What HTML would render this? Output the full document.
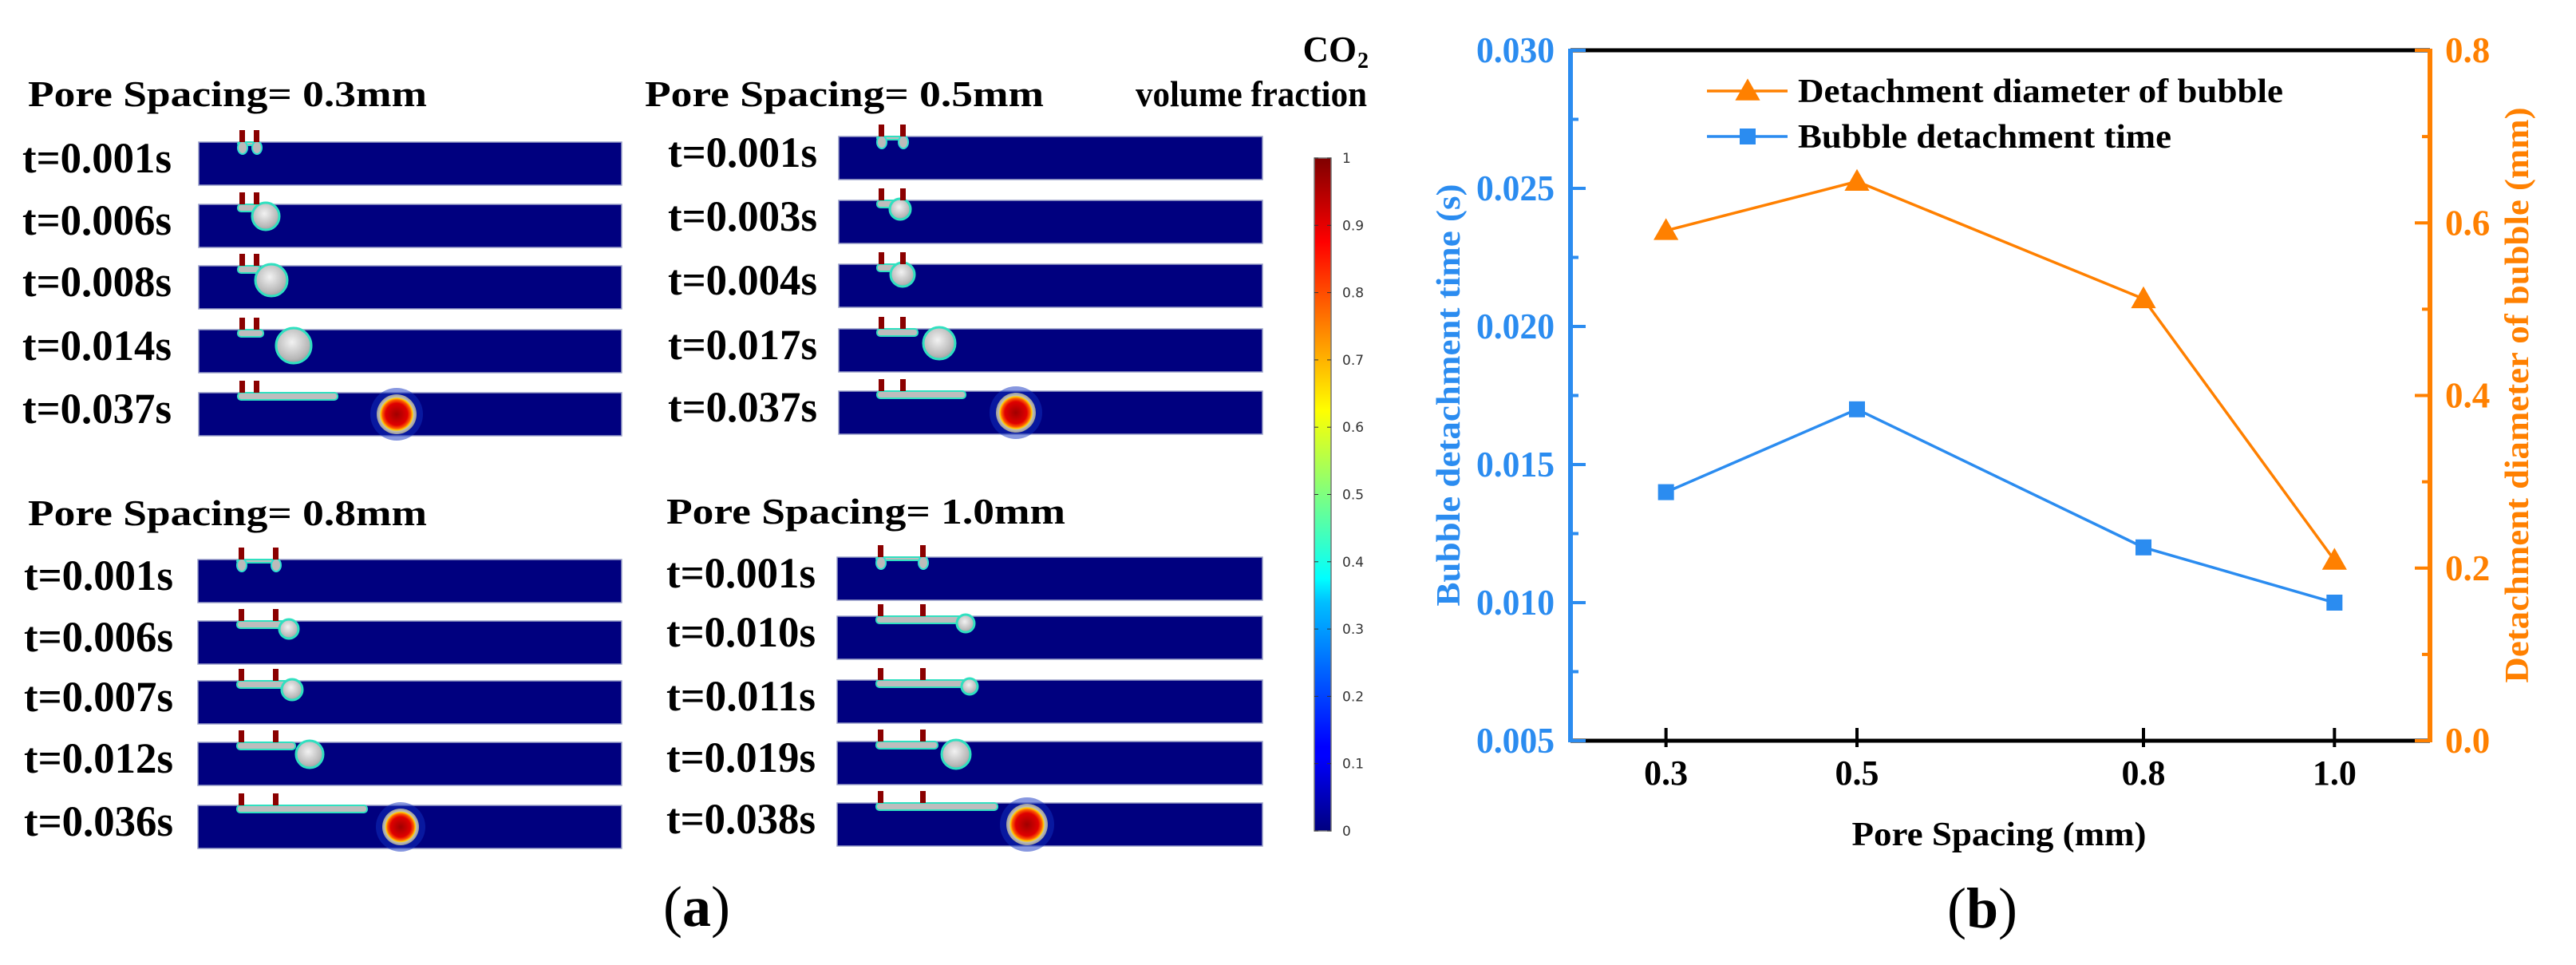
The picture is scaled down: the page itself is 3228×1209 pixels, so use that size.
<!DOCTYPE html>
<html><head><meta charset="utf-8">
<style>
html,body{margin:0;padding:0;background:#fff;}
svg{display:block;}
.ser{font-family:"Liberation Serif",serif;font-weight:bold;}
.lab{font-family:"Liberation Serif",serif;font-weight:bold;font-size:54px;fill:#000;}
.ttl{font-family:"Liberation Serif",serif;font-weight:bold;font-size:46px;fill:#000;}
.cb{font-family:"DejaVu Sans","Liberation Sans",sans-serif;font-size:17px;fill:#333;}
</style></head>
<body>
<svg id="root" width="3228" height="1209" viewBox="0 0 3228 1209" xmlns="http://www.w3.org/2000/svg">
<defs>
<linearGradient id="jet" x1="0" y1="1" x2="0" y2="0">
<stop offset="0" stop-color="#00007f"/><stop offset="0.11" stop-color="#0000ff"/><stop offset="0.125" stop-color="#0000ff"/>
<stop offset="0.34" stop-color="#00bfff"/><stop offset="0.375" stop-color="#00ffff"/><stop offset="0.5" stop-color="#7fff7f"/>
<stop offset="0.625" stop-color="#ffff00"/><stop offset="0.75" stop-color="#ff8000"/><stop offset="0.875" stop-color="#ff0000"/><stop offset="1" stop-color="#7f0000"/>
</linearGradient>
<radialGradient id="bub" cx="0.45" cy="0.4" r="0.6">
<stop offset="0" stop-color="#f2f2f2"/><stop offset="0.8" stop-color="#b8b8b8"/><stop offset="1" stop-color="#a0a0a0"/>
</radialGradient>
<radialGradient id="redb" cx="0.5" cy="0.5" r="0.5">
<stop offset="0" stop-color="#a00000"/><stop offset="0.55" stop-color="#e00000"/><stop offset="0.72" stop-color="#ff6000"/><stop offset="0.8" stop-color="#ffd000"/><stop offset="0.86" stop-color="#bbbbbb"/><stop offset="1" stop-color="#9a9a9a"/>
</radialGradient>
</defs>
<g id="panelA"></g>
<g id="chartB"></g>
</svg>
<script>
// ---------- Panel (a): simulation snapshots ----------
const groupTitles = ["Pore Spacing= 0.3mm","Pore Spacing= 0.5mm","Pore Spacing= 0.8mm","Pore Spacing= 1.0mm"];
const groupTimes = [
  ["t=0.001s","t=0.006s","t=0.008s","t=0.014s","t=0.037s"],
  ["t=0.001s","t=0.003s","t=0.004s","t=0.017s","t=0.037s"],
  ["t=0.001s","t=0.006s","t=0.007s","t=0.012s","t=0.036s"],
  ["t=0.001s","t=0.010s","t=0.011s","t=0.019s","t=0.038s"]
];
const NS="http://www.w3.org/2000/svg";
function mk(tag, attrs, parent){const e=document.createElementNS(NS,tag);for(const k in attrs)e.setAttribute(k,attrs[k]);parent.appendChild(e);return e;}
const pa=document.getElementById('panelA');
const layout=[
 {tx:35, ty:133, lx:28, px:249, pr:779, tops:[178,256,333,413,492], n:[300,318]},
 {tx:808,ty:133, lx:837, px:1051,pr:1582,tops:[171,251,331,412,490], n:[1101,1128]},
 {tx:35, ty:658, lx:30, px:248, pr:779, tops:[701,778,853,930,1009], n:[299,342]},
 {tx:835,ty:656, lx:835, px:1049,pr:1582,tops:[698,772,852,929,1006], n:[1100,1153]}
];
const bub=[
 [[0,0,0,0],[0,333,17,0],[0,340,20,0],[330,368,22,0],[423,497,25,1]],
 [[0,0,0,0],[0,1128,13,0],[0,1131,15,0],[1150,1177,20,0],[1210,1273,25,1]],
 [[0,0,0,0],[365,362,12,0],[365,366,13,0],[370,388,17,0],[460,502,23,1]],
 [[0,0,0,0],[1210,1210,11,0],[1215,1215,10,0],[1175,1198,18,0],[1250,1287,26,1]]
];
layout.forEach((L,g)=>{
  const grp=mk('g',{},pa);
  
  
  const t=mk('text',{x:L.tx,y:L.ty,class:'ttl',textLength:500,lengthAdjust:'spacingAndGlyphs'},grp);
  t.textContent=groupTitles[g];
  
  
  L.tops.forEach((tp,r)=>{
    const lab=mk('text',{x:L.lx,y:tp+38,class:'lab',textLength:187,lengthAdjust:'spacingAndGlyphs'},grp);
    lab.textContent=groupTimes[g][r];
    
    
    const rc=mk('rect',{x:L.px,y:tp,width:L.pr-L.px,height:54,fill:'#00007f',stroke:'#9aa0c8','stroke-width':1.5},grp);
    
    
    const b=bub[g][r];
    const fEnd=Math.max(b[0],L.n[1]+8);
    mk('rect',{x:L.n[0]-2,y:tp,width:fEnd-L.n[0]+2,height:r===0?4:9,rx:4,fill:'#bdbdbd',stroke:'#30e0c0','stroke-width':2},grp);
    if(r===0){L.n.forEach(nx=>mk('ellipse',{cx:nx+4,cy:tp+7,rx:6,ry:8,fill:'#bbb',stroke:'#30e0d0','stroke-width':2},grp));}
    if(b[2]>0 && !b[3]){mk('circle',{cx:b[1],cy:tp+b[2]-2,r:b[2],fill:'url(#bub)',stroke:'#30e0c0','stroke-width':3},grp);}
    if(b[3]){mk('circle',{cx:b[1],cy:tp+27,r:b[2]+8,fill:'#1030c0',opacity:0.5},grp);
      mk('circle',{cx:b[1],cy:tp+27,r:b[2],fill:'url(#redb)'},grp);}
    L.n.forEach(nx=>mk('rect',{x:nx,y:tp-15,width:7,height:15,fill:'#8b0000'},grp));
  });
});
const cbTicks=[0,0.1,0.2,0.3,0.4,0.5,0.6,0.7,0.8,0.9,1];
const cbg=mk('g',{},pa);


mk('rect',{x:1647,y:198,width:21,height:843,fill:'url(#jet)',stroke:'#777','stroke-width':1.5},cbg);
cbTicks.forEach(v=>{const y=1041-v*843;
  mk('line',{x1:1647,x2:1652,y1:y,y2:y,stroke:'#333','stroke-width':1},cbg);
  mk('line',{x1:1663,x2:1668,y1:y,y2:y,stroke:'#333','stroke-width':1},cbg);
  const tx=mk('text',{x:1682,y:y+6,class:'cb'},cbg);tx.textContent=String(v);
  
  
});
const co=mk('text',{x:1700,y:77,class:'ser','font-size':45,'text-anchor':'end'},cbg);
co.textContent='CO';


const sub=mk('text',{x:1701,y:85,class:'ser','font-size':28},cbg);sub.textContent='2';
const vf=mk('text',{x:1713,y:133,class:'ser','font-size':45,'text-anchor':'end',textLength:290,lengthAdjust:'spacingAndGlyphs'},cbg);
vf.textContent='volume fraction';


const labelA=mk('text',{x:873,y:1160,'font-family':'Liberation Serif, serif','font-size':72,'text-anchor':'middle'},pa);
labelA.innerHTML='(<tspan font-weight="bold">a</tspan>)';


</script>
<script>
// ---------- Panel (b): line chart ----------
const categories=[0.3,0.5,0.8,1.0];
const detachTime=[0.014,0.017,0.012,0.010];
const detachDiameter=[0.591,0.648,0.512,0.209];
const xTickLabels=["0.3","0.5","0.8","1.0"];
const leftTicks=[0.005,0.010,0.015,0.020,0.025,0.030];
const leftTickLabels=["0.005","0.010","0.015","0.020","0.025","0.030"];
const rightTicks=[0.0,0.2,0.4,0.6,0.8];
const rightTickLabels=["0.0","0.2","0.4","0.6","0.8"];

const X0=1968,X1=3045,Y0=928,Y1=63;
const BLUE='#2b8cf0',ORANGE='#ff8000';
function xS(v){return X0+(v-0.2)/0.9*(X1-X0);}
function yL(v){return Y0-(v-0.005)/0.025*(Y0-Y1);}
function yR(v){return Y0-v/0.8*(Y0-Y1);}
function el(tag,attrs,parent){const e=document.createElementNS("http://www.w3.org/2000/svg",tag);for(const k in attrs)e.setAttribute(k,attrs[k]);parent.appendChild(e);return e;}
const chartG=document.getElementById('chartB');

const topAxis=el('line',{x1:X0,x2:X1,y1:Y1,y2:Y1,stroke:'#000','stroke-width':5},chartG);


const botAxis=el('line',{x1:X0,x2:X1,y1:Y0,y2:Y0,stroke:'#000','stroke-width':5},chartG);


const leftAxis=el('line',{x1:X0,x2:X0,y1:Y1-2,y2:Y0+2,stroke:BLUE,'stroke-width':6},chartG);


const rightAxis=el('line',{x1:X1,x2:X1,y1:Y1-2,y2:Y0+2,stroke:ORANGE,'stroke-width':6},chartG);



leftTicks.forEach((v,i)=>{const y=yL(v);
  el('line',{x1:X0,x2:X0+19,y1:y,y2:y,stroke:BLUE,'stroke-width':4},chartG);
  if(i<leftTicks.length-1){const ym=yL(v+0.0025);el('line',{x1:X0,x2:X0+10,y1:ym,y2:ym,stroke:BLUE,'stroke-width':4},chartG);}
  const t=el('text',{x:1948,y:y+15,'text-anchor':'end','font-family':'Liberation Serif, serif','font-weight':'bold','font-size':45,fill:BLUE,textLength:98,lengthAdjust:'spacingAndGlyphs'},chartG);
  t.textContent=leftTickLabels[i];
  
  
});
rightTicks.forEach((v,i)=>{const y=yR(v);
  el('line',{x1:X1-19,x2:X1,y1:y,y2:y,stroke:ORANGE,'stroke-width':4},chartG);
  if(i<rightTicks.length-1){const ym=yR(v+0.1);el('line',{x1:X1-10,x2:X1,y1:ym,y2:ym,stroke:ORANGE,'stroke-width':4},chartG);}
  const t=el('text',{x:3064,y:y+15,'font-family':'Liberation Serif, serif','font-weight':'bold','font-size':45,fill:ORANGE},chartG);
  t.textContent=rightTickLabels[i];
  
  
});
categories.forEach((v,i)=>{const x=xS(v);
  el('line',{x1:x,x2:x,y1:Y0-16,y2:Y0+8,stroke:'#000','stroke-width':4},chartG);
  const t=el('text',{x:x,y:983,'text-anchor':'middle','font-family':'Liberation Serif, serif','font-weight':'bold','font-size':44,fill:'#000'},chartG);
  t.textContent=xTickLabels[i];
  
  
});
const xTitle=el('text',{x:2505,y:1059,'text-anchor':'middle','font-family':'Liberation Serif, serif','font-weight':'bold','font-size':42,fill:'#000',textLength:369,lengthAdjust:'spacingAndGlyphs'},chartG);
xTitle.textContent='Pore Spacing (mm)';


const yTitleL=el('text',{x:0,y:0,'text-anchor':'middle','font-family':'Liberation Serif, serif','font-weight':'bold','font-size':42,fill:BLUE,textLength:529,lengthAdjust:'spacingAndGlyphs',transform:'translate(1829,495) rotate(-90)'},chartG);
yTitleL.textContent='Bubble detachment time (s)';


const yTitleR=el('text',{x:0,y:0,'text-anchor':'middle','font-family':'Liberation Serif, serif','font-weight':'bold','font-size':42,fill:ORANGE,textLength:721,lengthAdjust:'spacingAndGlyphs',transform:'translate(3168,495) rotate(-90)'},chartG);
yTitleR.textContent='Detachment diameter of bubble (mm)';



function tri(cx,cy,s){return `${cx},${cy-s*0.6} ${cx-s*0.6},${cy+s*0.45} ${cx+s*0.6},${cy+s*0.45}`;}
const dpts=categories.map((c,i)=>xS(c)+','+yR(detachDiameter[i])).join(' ');
const dLine=el('polyline',{points:dpts,fill:'none',stroke:ORANGE,'stroke-width':3.5},chartG);


categories.forEach((c,i)=>{const m=el('polygon',{points:tri(xS(c),yR(detachDiameter[i]),26),fill:ORANGE},chartG);
  
  });
const tpts=categories.map((c,i)=>xS(c)+','+yL(detachTime[i])).join(' ');
const tLine=el('polyline',{points:tpts,fill:'none',stroke:BLUE,'stroke-width':3.5},chartG);


categories.forEach((c,i)=>{const m=el('rect',{x:xS(c)-10,y:yL(detachTime[i])-10,width:20,height:20,fill:BLUE},chartG);
  
  });

const legendG=el('g',{},chartG);


el('line',{x1:2139,x2:2240,y1:114,y2:114,stroke:ORANGE,'stroke-width':3.5},legendG);
el('polygon',{points:tri(2190,114,26),fill:ORANGE},legendG);
const leg1=el('text',{x:2253,y:128,'font-family':'Liberation Serif, serif','font-weight':'bold','font-size':42,fill:'#000',textLength:608,lengthAdjust:'spacingAndGlyphs'},legendG);
leg1.textContent='Detachment diameter of bubble';


el('line',{x1:2139,x2:2240,y1:171,y2:171,stroke:BLUE,'stroke-width':3.5},legendG);
el('rect',{x:2180,y:161,width:20,height:20,fill:BLUE},legendG);
const leg2=el('text',{x:2253,y:185,'font-family':'Liberation Serif, serif','font-weight':'bold','font-size':42,fill:'#000',textLength:468,lengthAdjust:'spacingAndGlyphs'},legendG);
leg2.textContent='Bubble detachment time';



const labelB=el('text',{x:2484,y:1162,'text-anchor':'middle','font-family':'Liberation Serif, serif','font-size':72,fill:'#000'},chartG);
labelB.innerHTML='(<tspan font-weight="bold">b</tspan>)';


</script>
</body></html>
